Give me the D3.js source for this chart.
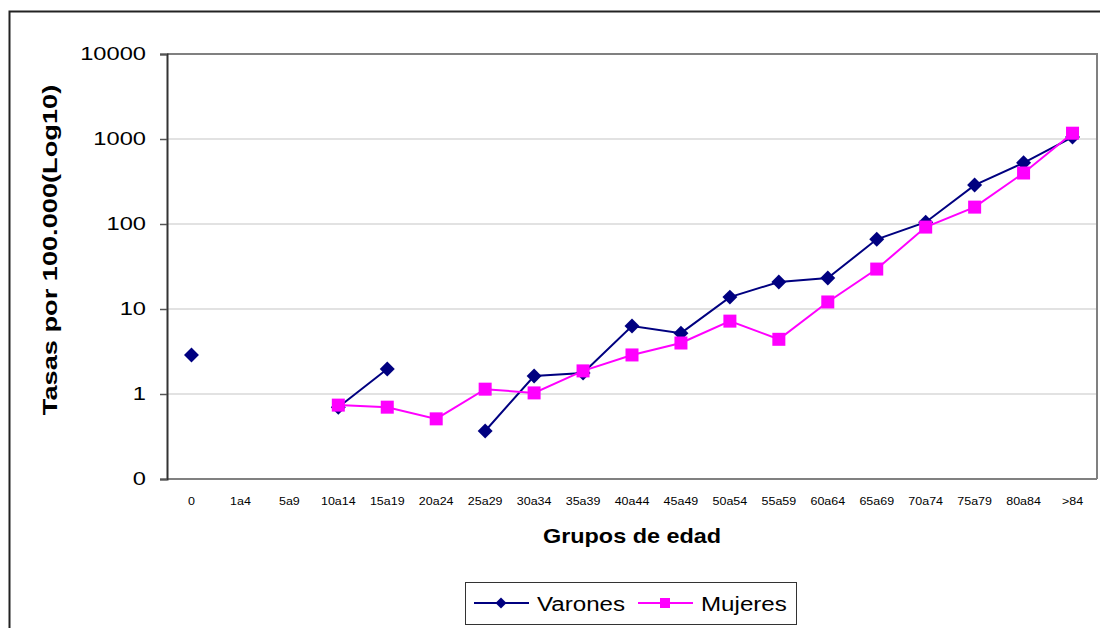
<!DOCTYPE html>
<html><head><meta charset="utf-8">
<script src="https://cdn.jsdelivr.net/npm/d3@7"></script>
<style>body{margin:0;background:#fff}svg{display:block;font-family:"Liberation Sans",Arial,sans-serif}</style>
</head><body><svg id="c" width="1100" height="628"></svg>
<script>
const categories = ["0","1a4","5a9","10a14","15a19","20a24","25a29","30a34","35a39","40a44","45a49","50a54","55a59","60a64","65a69","70a74","75a79","80a84",">84"];
const varones = [2.88,null,null,0.70,1.97,null,0.367,1.63,1.77,6.3,5.2,13.8,20.8,23.1,66,105,287,524,1054];
const mujeres = [null,null,null,0.74,0.70,0.51,1.14,1.03,1.87,2.88,3.98,7.2,4.4,12.1,29.5,92,158,398,1170];
const yTickValues = [0.1,1,10,100,1000,10000];
const yTickLabels = ["0","1","10","100","1000","10000"];
const seriesNames = ["Varones","Mujeres"];

const svg = d3.select("#c");
const L=167, R=1097, T=54, B=479;
const x = d3.scaleBand().domain(categories).range([L,R]);
const cx = c => x(c)+x.bandwidth()/2;
const y = d3.scaleLog().domain([0.1,10000]).range([B,T]);

function stext(px, py, str, size, sx, opts={}){
  const t = svg.append("text").attr("transform",`translate(${px},${py}) ${opts.rot?`rotate(${opts.rot})`:""} scale(${sx},1)`)
    .attr("font-size",size).attr("fill","#000").attr("text-anchor",opts.anchor||"start").text(str);
  if(opts.bold) t.attr("font-weight","bold");
  return t;
}

// outer frame
svg.append("rect").attr("x",9.5).attr("y",11.5).attr("width",1200).attr("height",700)
  .attr("fill","none").attr("stroke","#222").attr("stroke-width",2);

// gridlines
svg.append("g").selectAll("line").data(yTickValues.filter(v=>v>0.1 && v<10000)).join("line")
  .attr("x1",L).attr("x2",R).attr("y1",d=>y(d)).attr("y2",d=>y(d))
  .attr("stroke","#d9d9d9").attr("stroke-width",1.5);

// plot border (top/right grey)
svg.append("path").attr("d",`M${L},${T}H${R}V${B}`).attr("fill","none").attr("stroke","#808080").attr("stroke-width",2);
svg.append("line").attr("x1",L).attr("x2",R).attr("y1",B).attr("y2",B).attr("stroke","#808080").attr("stroke-width",2);

// y axis
const ySX = 1.28;
const yAxis = d3.axisLeft(y).tickValues(yTickValues).tickFormat((d,i)=>yTickLabels[i]).tickSize(7).tickPadding(14);
const gy = svg.append("g").attr("transform",`translate(${L},0)`).call(yAxis);
gy.select(".domain").attr("stroke","#333").attr("stroke-width",2);
gy.selectAll(".tick line").attr("stroke","#555").attr("stroke-width",1.5);
gy.selectAll(".tick text").attr("font-size",18.5).attr("fill","#000").attr("font-family","Liberation Sans, Arial, sans-serif")
  .attr("x",-21/ySX).attr("transform",`scale(${ySX},1)`);

// x axis labels
const xSX = 1.25;
const xAxis = d3.axisBottom(x).tickSize(0).tickPadding(19);
const gx = svg.append("g").attr("transform",`translate(0,${B})`).call(xAxis);
gx.select(".domain").remove();
gx.selectAll(".tick text").attr("font-size",10).attr("fill","#000").attr("font-family","Liberation Sans, Arial, sans-serif")
  .attr("transform",`scale(${xSX},1)`);

// titles
stext(632, 543, "Grupos de edad", 19.5, 1.2, {anchor:"middle", bold:true});
stext(57, 250, "Tasas por 100.000(Log10)", 20, 1.36, {anchor:"middle", bold:true, rot:-90});

const colors = ["#000080","#ff00ff"];
const data = [varones, mujeres];
const line = d3.line().defined(d=>d.v!=null).x(d=>cx(d.c)).y(d=>y(d.v));

data.forEach((vals,si)=>{
  const pts = categories.map((c,i)=>({c, v: vals[i]}));
  svg.append("path").datum(pts).attr("d",line).attr("fill","none")
    .attr("stroke",colors[si]).attr("stroke-width",2);
  const g = svg.append("g");
  pts.filter(d=>d.v!=null).forEach(d=>{
    if(si===0){
      g.append("path").attr("d",d3.symbol(d3.symbolSquare, 112)())
        .attr("transform",`translate(${cx(d.c)},${y(d.v)}) rotate(45)`)
        .attr("fill",colors[si]);
    } else {
      g.append("rect").attr("x",cx(d.c)-6.5).attr("y",y(d.v)-6.5).attr("width",13).attr("height",13).attr("fill",colors[si]);
    }
  });
});

// legend
svg.append("rect").attr("x",465.5).attr("y",582.5).attr("width",331).attr("height",42)
  .attr("fill","#fff").attr("stroke","#333").attr("stroke-width",1);
const lx = [474, 638];
seriesNames.forEach((n,i)=>{
  svg.append("line").attr("x1",lx[i]).attr("x2",lx[i]+55).attr("y1",603).attr("y2",603)
    .attr("stroke",colors[i]).attr("stroke-width",2);
  if(i===0){
    svg.append("path").attr("d",d3.symbol(d3.symbolSquare,60)()).attr("transform",`translate(${lx[i]+27},603) rotate(45)`).attr("fill",colors[i]);
  } else {
    svg.append("rect").attr("x",lx[i]+22).attr("y",598).attr("width",10).attr("height",10).attr("fill",colors[i]);
  }
  stext(lx[i]+63, 611, n, 21, 1.15);
});
</script></body></html>
